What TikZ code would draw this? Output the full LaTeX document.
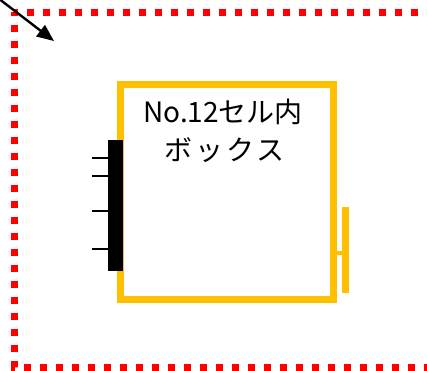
\documentclass[tikz,border=0pt]{standalone}
\usepackage{fontspec}
\newfontfamily\cjk{Noto Sans CJK JP}
\newfontfamily\cjkwide{Noto Sans CJK JP}[LetterSpace=11]
\usetikzlibrary{arrows.meta}
\definecolor{boxyellow}{RGB}{255,192,0}
\definecolor{dotred}{RGB}{255,0,0}
\tikzset{
  redframe/.style={draw=dotred, line width=7pt, dash pattern=on 7pt off 9pt, dash phase=3.5pt},
  ybox/.style={draw=boxyellow, line width=7pt},
  tick/.style={draw=black, line width=2pt},
}
\begin{document}
\begin{tikzpicture}[x=1pt,y=-1pt]
\useasboundingbox (0,0) rectangle (427,370);
\clip (0,0) rectangle (427,370);
% dotted red frame
\coordinate (fa) at (14,12);
\coordinate (fb) at (450,12);
\coordinate (fc) at (14,367);
\coordinate (fd) at (450,367);
\draw[redframe] (fa) -- (fb);
\draw[redframe] (fa) -- (fc) -- (fd);
% arrow
\coordinate (as) at (-6,-5);
\coordinate (ae) at (54,41);
\draw[line width=2.4pt, -{Triangle[length=17pt,width=14pt]}] (as) -- (ae);
% yellow box
\node[ybox, minimum width=213pt, minimum height=215pt, inner sep=0pt, anchor=north west] (box) at (117,81) {};
% right T
\coordinate (tt) at (345,207);
\coordinate (tb) at (345,293);
\coordinate (tm) at (345,252.5);
\draw[draw=boxyellow, line width=7pt] (tt) -- (tb);
\draw[draw=boxyellow, line width=4pt] (box.east |- tm) -- (tm);
% black bar
\node[fill=black, minimum width=15pt, minimum height=131pt, inner sep=0pt, anchor=north west] (bar) at (108,140) {};
% ticks
\foreach \yy [count=\i] in {157.5,175.5,210.5,249} {
  \coordinate (tk\i) at (92,\yy);
  \draw[tick] (tk\i) -- (bar.west |- tk\i);
}
% label
\node[font=\cjk\fontsize{28}{38}\selectfont, align=center, inner sep=0pt] (lbl) at (223,131) {No.12セル内\\{\cjkwide ボックス\kern-3pt}};
\end{tikzpicture}
\end{document}
